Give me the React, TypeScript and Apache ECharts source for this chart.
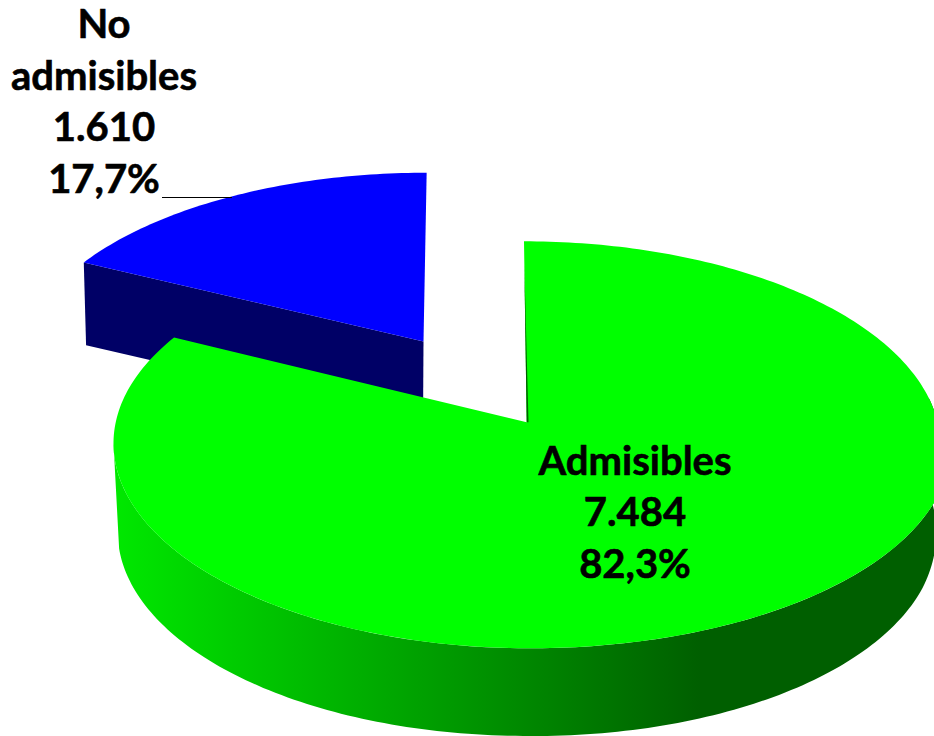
import React, { useEffect, useRef } from "react";
import * as echarts from "echarts";

const categories = ["Admisibles", "No admisibles"];
const values = [7484, 1610];
const percents = ["82,3%", "17,7%"];
const valueLabels = ["7.484", "1.610"];

const FONT = "Lato, 'Open Sans', sans-serif";
const total = values.reduce((a, b) => a + b, 0);

type Disc = { ax: number; ay: number; K: number; k: number; p: number; s: number; bulge: number; tilt: number };

const project = (d: Disc, turn: number): number[] => {
  const a = turn * Math.PI * 2;
  const u = Math.sin(a);
  const v = Math.cos(a);
  const w = 1 + d.p * v;
  const low = u > 0 && v < 0 ? Math.min(1, -v / 0.35) : 0;
  const K = d.K + d.bulge * low;
  return [d.ax + (K * u + d.s * v) / w, d.ay - (d.k * v) / w + d.tilt * u * low];
};

const arc = (d: Disc, t0: number, t1: number): number[][] => {
  const n = Math.max(2, Math.ceil(Math.abs(t1 - t0) * 360));
  const pts: number[][] = [];
  for (let i = 0; i <= n; i++) pts.push(project(d, t0 + ((t1 - t0) * i) / n));
  return pts;
};

const geom = [
  {
    top: { ax: 526.7, ay: 422.3, K: 411, k: 201, p: 0.1106, s: -3, bulge: 10, tilt: 0 },
    bottom: { ax: 527, ay: 510, K: 407, k: 202, p: 0.106, s: 0, bulge: 0, tilt: 4 },
  },
  {
    top: { ax: 423.5, ay: 341.5, K: 399, k: 187.4, p: 0.11, s: 3.5, bulge: 0, tilt: 0 },
    bottom: { ax: 423, ay: 423, K: 394, k: 184, p: 0.11, s: 0, bulge: 0, tilt: 0 },
  },
];

const wallGradient = new echarts.graphic.LinearGradient(
  114, 0, 934, 0,
  [
    { offset: 0, color: "#00e8f0".slice(0, 7).replace("f0", "00") },
    { offset: 0.715, color: "#005f00" },
    { offset: 1, color: "#005f00" },
  ],
  true
);

const lineLabel = (lines: string[], cx: number, firstY: number, step: number, z2: number) =>
  lines.map((t, i) => ({
    type: "text",
    z2,
    style: {
      text: t,
      x: cx,
      y: firstY + i * step,
      fill: "#000",
      stroke: "#000",
      lineWidth: 0.6,
      font: `bold 40px ${FONT}`,
      align: "center",
      verticalAlign: "middle",
    },
  }));

const renderItem = (params: any, api: any) => {
  const i = params.dataIndex;
  const val = api.value(0);
  let before = 0;
  for (let j = 0; j < i; j++) before += values[j];
  const t0 = before / total;
  const t1 = (before + val) / total;
  const { top, bottom } = geom[i];
  const children: any[] = [];
  if (i === 0) {
    const upper = arc(top, 0.23, 0.734);
    const lower = arc(bottom, 0.72, 0.23);
    children.push({
      type: "polygon",
      z2: 10,
      shape: { points: [...upper, ...lower] },
      style: { fill: wallGradient },
    });
    children.push({
      type: "polygon",
      z2: 10.5,
      shape: { points: [[top.ax, top.ay], ...arc(top, t0, t1)] },
      style: { fill: "#00ff00" },
    });
    const rimTop = project(top, 0);
    children.push({
      type: "polygon",
      z2: 11,
      shape: {
        points: [
          [rimTop[0] + 0.3, rimTop[1] + 23],
          [top.ax, top.ay],
          [top.ax + 1.8, top.ay],
        ],
      },
      style: { fill: "#005f00" },
    });
    children.push(...lineLabel([categories[0], valueLabels[0], percents[0]], 635, 459.5, 51.5, 20));
  } else {
    const endTop = project(top, t0);
    const endBottom = project(bottom, t0);
    children.push({
      type: "polygon",
      z2: 1,
      shape: { points: [[top.ax, top.ay], endTop, endBottom, [bottom.ax, bottom.ay]] },
      style: { fill: "#000066" },
    });
    children.push({
      type: "polygon",
      z2: 2,
      shape: { points: [[top.ax, top.ay], ...arc(top, t0, t1)] },
      style: { fill: "#0000ff" },
    });
    children.push({
      type: "line",
      z2: 3,
      shape: { x1: 162, y1: 197.5, x2: 232, y2: 197.5 },
      style: { stroke: "#000", lineWidth: 1.2 },
    });
    children.push(
      ...lineLabel(["No", "admisibles", valueLabels[1], percents[1]], 104, 23, 51.5, 20)
    );
  }
  return { type: "group", children };
};

export default function App() {
  const ref = useRef<HTMLDivElement>(null);
  useEffect(() => {
    document.body.style.margin = "0";
    const chart = echarts.init(ref.current!, null, { renderer: "svg" });
    chart.setOption({
      animation: false,
      backgroundColor: "#fff",
      series: [
        {
          type: "custom",
          coordinateSystem: "none",
          renderItem,
          clip: false,
          data: values.map((v, i) => ({ name: categories[i], value: [v] })),
        },
      ],
    });
    return () => chart.dispose();
  }, []);
  return <div ref={ref} style={{ width: 934, height: 736, overflow: "hidden" }} />;
}
